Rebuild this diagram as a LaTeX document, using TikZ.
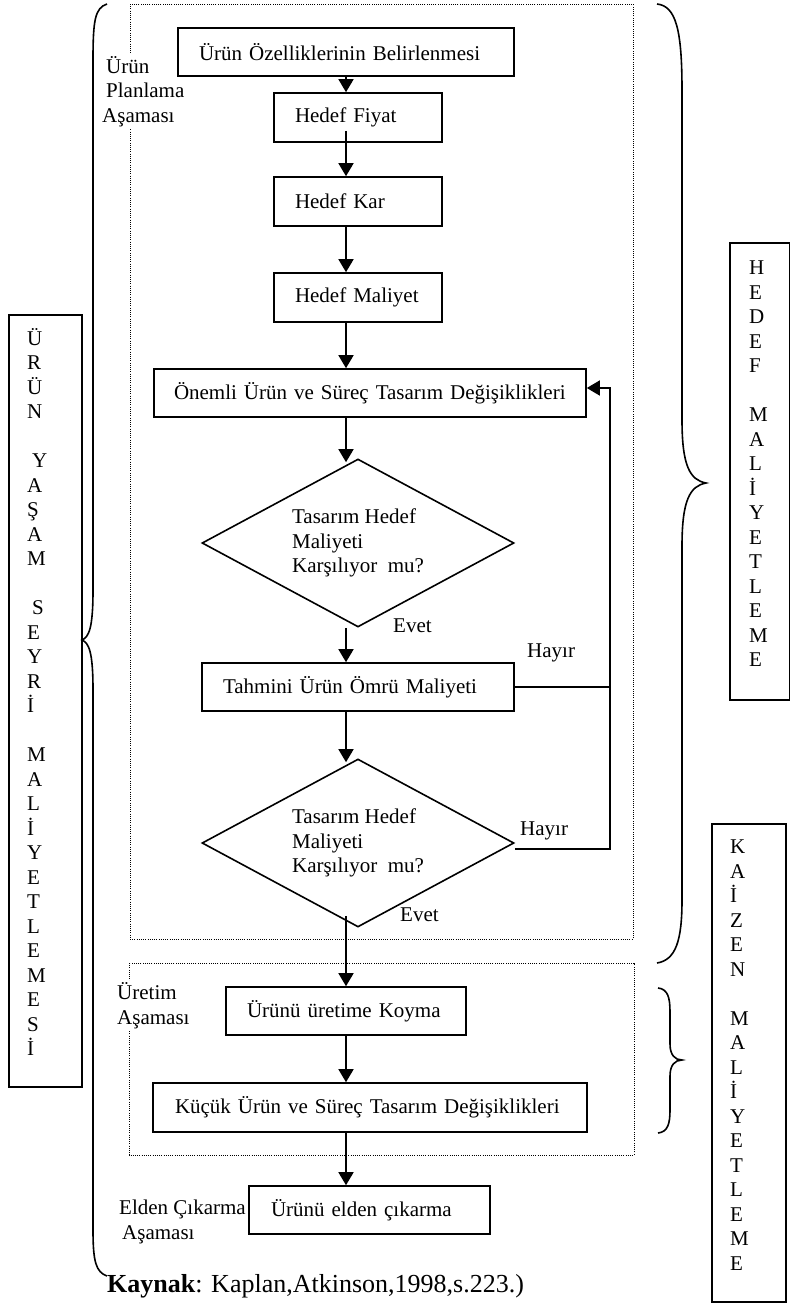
\documentclass[tikz,border=0pt]{standalone}
\usepackage{fontspec}
\setmainfont{Liberation Serif}
\usetikzlibrary{shapes.geometric,arrows.meta}
\begin{document}
\begin{tikzpicture}[x=1pt,y=-1pt,
  txt/.style={font=\fontsize{21}{24.5}\selectfont},
  fbox/.style={draw,line width=1.6pt,align=left,txt,inner ysep=0pt},
  dia/.style={diamond,draw,line width=1.6pt,aspect=2,minimum width=312pt,minimum height=168pt,inner sep=0pt,align=left,txt},
  arr/.style={line width=1.6pt,-{Triangle[width=15pt,length=13pt]}},
  cline/.style={line width=1.6pt},
  dotbox/.style={line width=1pt,dash pattern=on 1pt off 1.2pt},
  phase/.style={txt,fill=white,align=left,inner sep=2pt,anchor=base west},
  lbl/.style={txt,inner sep=0pt,anchor=base west},
  brace/.style={line width=1.6pt},
  side/.style={align=left,inner sep=0pt,anchor=base west,font=\fontsize{21}{24.5}\selectfont},
  sidebox/.style={line width=1.6pt}
]
\useasboundingbox (0,0) rectangle (791,1304);
\fill[white] (0,0) rectangle (791,1304);

% phase frames
\draw[dotbox] (130,4) rectangle (633,939);
\draw[dotbox] (129,963) rectangle (634,1155);

\coordinate (ax) at (346,0);
\coordinate (fbA) at (610,849);
\coordinate (fbB) at (610,388);

% phase labels (anchor = baseline of last line)
\node[phase] (pl) at (100,122) {\hspace*{4pt}Ürün\\\hspace*{4pt}Planlama\\Aşaması};
\node[phase] (pu) at (115,1024) {Üretim\\Aşaması};
\node[phase] (pe) at (117,1239) {Elden Çıkarma\\\hspace*{3pt}Aşaması};

% flow boxes
\node[fbox,text width=294pt,inner xsep=21pt,minimum height=48pt] (b1) at (346,52) {Ürün Özelliklerinin Belirlenmesi};
\node[fbox,text width=126pt,inner xsep=21pt,minimum height=49pt] (b2) at (358,117.5) {Hedef Fiyat};
\node[fbox,text width=126pt,inner xsep=21pt,minimum height=49pt] (b3) at (358,201.5) {Hedef Kar};
\node[fbox,text width=126pt,inner xsep=21pt,minimum height=49pt] (b4) at (358,297.5) {Hedef Maliyet};
\node[fbox,text width=392pt,inner xsep=20pt,minimum height=48pt] (b5) at (370,393) {\mbox{Önemli Ürün ve Süreç Tasarım Değişiklikleri}};
\node[dia] (d1) at (358,543) {Tasarım Hedef\\Maliyeti\\Karşılıyor\ \ mu?};
\node[fbox,text width=270pt,inner xsep=21pt,minimum height=48pt] (b6) at (358,687) {Tahmini Ürün Ömrü Maliyeti};
\node[dia] (d2) at (358,843) {Tasarım Hedef\\Maliyeti\\Karşılıyor\ \ mu?};
\node[fbox,text width=198pt,inner xsep=21pt,minimum height=48pt] (b7) at (346,1011) {Ürünü üretime Koyma};
\node[fbox,text width=390pt,inner xsep=22pt,minimum height=49pt] (b8) at (370,1107.5) {\mbox{Küçük Ürün ve Süreç Tasarım Değişiklikleri}};
\node[fbox,text width=197pt,inner xsep=22pt,minimum height=48pt] (b9) at (369.5,1210) {Ürünü elden çıkarma};

% connectors
\draw[arr] (b1.south -| ax) -- (b2.north -| ax);
\draw[arr] ([yshift=12pt]b2.south -| ax) -- (b3.north -| ax);
\draw[arr] (b3.south -| ax) -- (b4.north -| ax);
\draw[arr] (b4.south -| ax) -- (b5.north -| ax);
\draw[arr] (b5.south -| ax) -- ([yshift=-4pt]d1.north -| ax);
\draw[arr] (d1.south -| ax) -- (b6.north -| ax);
\draw[arr] (b6.south -| ax) -- ([yshift=-4pt]d2.north -| ax);
\draw[arr] ([yshift=12pt]d2.south -| ax) -- (b7.north -| ax);
\draw[arr] (b7.south -| ax) -- (b8.north -| ax);
\draw[arr] (b8.south -| ax) -- (b9.north -| ax);
\draw[cline] (b6.east) -- (b6.east -| fbA);
\draw[arr] ([yshift=-6pt]d2.east) -- ([yshift=-6pt]d2.east -| fbA) -- (fbB) -- (fbB -| b5.east);

% connector labels
\node[lbl] (e1) at (393,632) {Evet};
\node[lbl] (e2) at (400,921) {Evet};
\node[lbl] (h1) at (527,657) {Hayır};
\node[lbl] (h2) at (520,835) {Hayır};

% source
\node[inner sep=0pt,anchor=base west,font=\fontsize{26}{30}\selectfont] (src) at (107,1292) {\textbf{Kaynak}: Kaplan,Atkinson,1998,s.223.)};

% left brace + box
\draw[brace] (107,4) .. controls (95,8) and (93,20) .. (93,60) -- (93,590) .. controls (93,628) and (89,637) .. (82,640) .. controls (89,643) and (93,652) .. (93,690) -- (93,1230) .. controls (93,1262) and (96,1272) .. (107,1276);
\draw[sidebox] (9,315) rectangle (82,1087);
\node[side] (lc) at (27,1055.5) {Ü\\R\\Ü\\N\\[24.5pt]\hspace*{5pt}Y\\A\\Ş\\A\\M\\[24.5pt]\hspace*{5pt}S\\E\\Y\\R\\İ\\[24.5pt]M\\A\\L\\İ\\Y\\E\\T\\L\\E\\M\\E\\S\\İ};

% right brace (hedef) + box
\draw[brace] (657,4) .. controls (676,6) and (682,30) .. (682,90) -- (682,420) .. controls (682,466) and (690,480) .. (706,483) .. controls (690,486) and (682,500) .. (682,546) -- (682,900) .. controls (682,940) and (676,960) .. (657,963);
\draw[sidebox] (730,243) rectangle (789.5,700);
\node[side] (hc) at (749,666.5) {H\\E\\D\\E\\F\\[24.5pt]M\\A\\L\\İ\\Y\\E\\T\\L\\E\\M\\E};

% kaizen brace + box
\draw[brace] (658,988) .. controls (668,989) and (670,998) .. (670,1012) -- (670,1044) .. controls (670,1055) and (675,1060) .. (682,1060) .. controls (675,1060) and (670,1065) .. (670,1076) -- (670,1110) .. controls (670,1123) and (668,1132) .. (658,1133);
\draw[sidebox] (712,824) rectangle (786,1302);
\node[side] (kc) at (730,1270) {K\\A\\İ\\Z\\E\\N\\[24.5pt]M\\A\\L\\İ\\Y\\E\\T\\L\\E\\M\\E};
\end{tikzpicture}
\end{document}
